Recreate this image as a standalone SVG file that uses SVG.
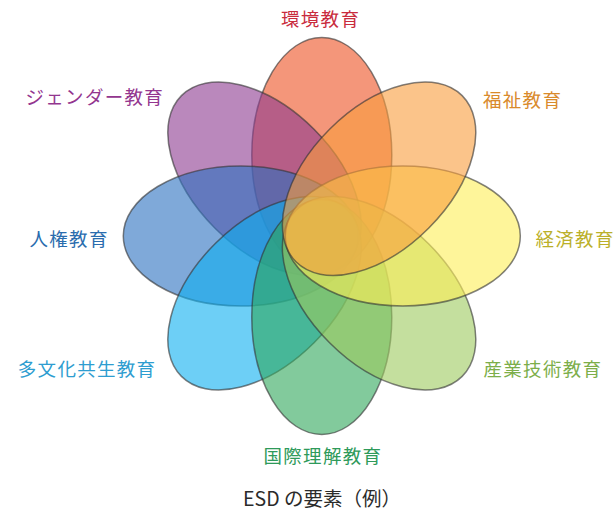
<svg xmlns="http://www.w3.org/2000/svg" width="614" height="515" viewBox="0 0 614 515">
  <style>
    .petal { fill-opacity: 0.6; stroke: #333333; stroke-opacity: 0.62; stroke-width: 1.5; }
    .lbl { font-family: "Noto Sans CJK JP", "Noto Sans", sans-serif; font-size: 18.5px; letter-spacing: 1.3px; }
    .title { font-family: "Noto Sans CJK JP", "Noto Sans", sans-serif; font-size: 19.5px; fill: #2b2b2b; font-weight: 400; }
  </style>
  <rect width="614" height="515" fill="#ffffff"/>
  <g id="petals">
    <g id="kankyo">
      <ellipse class="petal" cx="321.8" cy="155" rx="70" ry="117.5" fill="#ED5021"/>
      <text class="lbl" x="281" y="25.5" fill="#C92B3D">環境教育</text>
    </g>
    <g id="gender">
      <ellipse class="petal" cx="321.8" cy="155" rx="70" ry="117.5" fill="#8C398F" transform="rotate(-45 321.8 236)"/>
      <text class="lbl" x="25.5" y="104" fill="#93368F">ジェンダー教育</text>
    </g>
    <g id="jinken">
      <ellipse class="petal" cx="321.8" cy="155" rx="70" ry="117.5" fill="#2A70C0" transform="rotate(-90 321.8 236)"/>
      <text class="lbl" x="29.5" y="245.5" fill="#2A6CAE">人権教育</text>
    </g>
    <g id="tabunka">
      <ellipse class="petal" cx="321.8" cy="155" rx="70" ry="117.5" fill="#0CAFF0" transform="rotate(-135 321.8 236)"/>
      <text class="lbl" x="17.8" y="375.5" fill="#2E9DD0">多文化共生教育</text>
    </g>
    <g id="kokusai">
      <ellipse class="petal" cx="321.8" cy="155" rx="70" ry="117.5" fill="#2FA75A" transform="rotate(180 321.8 236)"/>
      <text class="lbl" x="263.5" y="463" fill="#2E9A5A">国際理解教育</text>
    </g>
    <g id="sangyo">
      <ellipse class="petal" cx="321.8" cy="155" rx="70" ry="117.5" fill="#9DCA5D" transform="rotate(135 321.8 236)"/>
      <text class="lbl" x="483.5" y="375.5" fill="#7CAE4A">産業技術教育</text>
    </g>
    <g id="keizai">
      <ellipse class="petal" cx="321.8" cy="155" rx="70" ry="117.5" fill="#FDEE57" transform="rotate(90 321.8 236)"/>
      <text class="lbl" x="535.5" y="246" fill="#BBB02A">経済教育</text>
    </g>
    <g id="fukushi">
      <ellipse class="petal" cx="321.8" cy="155" rx="70" ry="117.5" fill="#F89D3C" transform="rotate(45 321.8 236)"/>
      <text class="lbl" x="483" y="107" fill="#D98A2C">福祉教育</text>
    </g>
  </g>
  <g id="connectors"/>
  <text class="title" x="322" y="505.5" text-anchor="middle">ESD の要素（例）</text>
</svg>
